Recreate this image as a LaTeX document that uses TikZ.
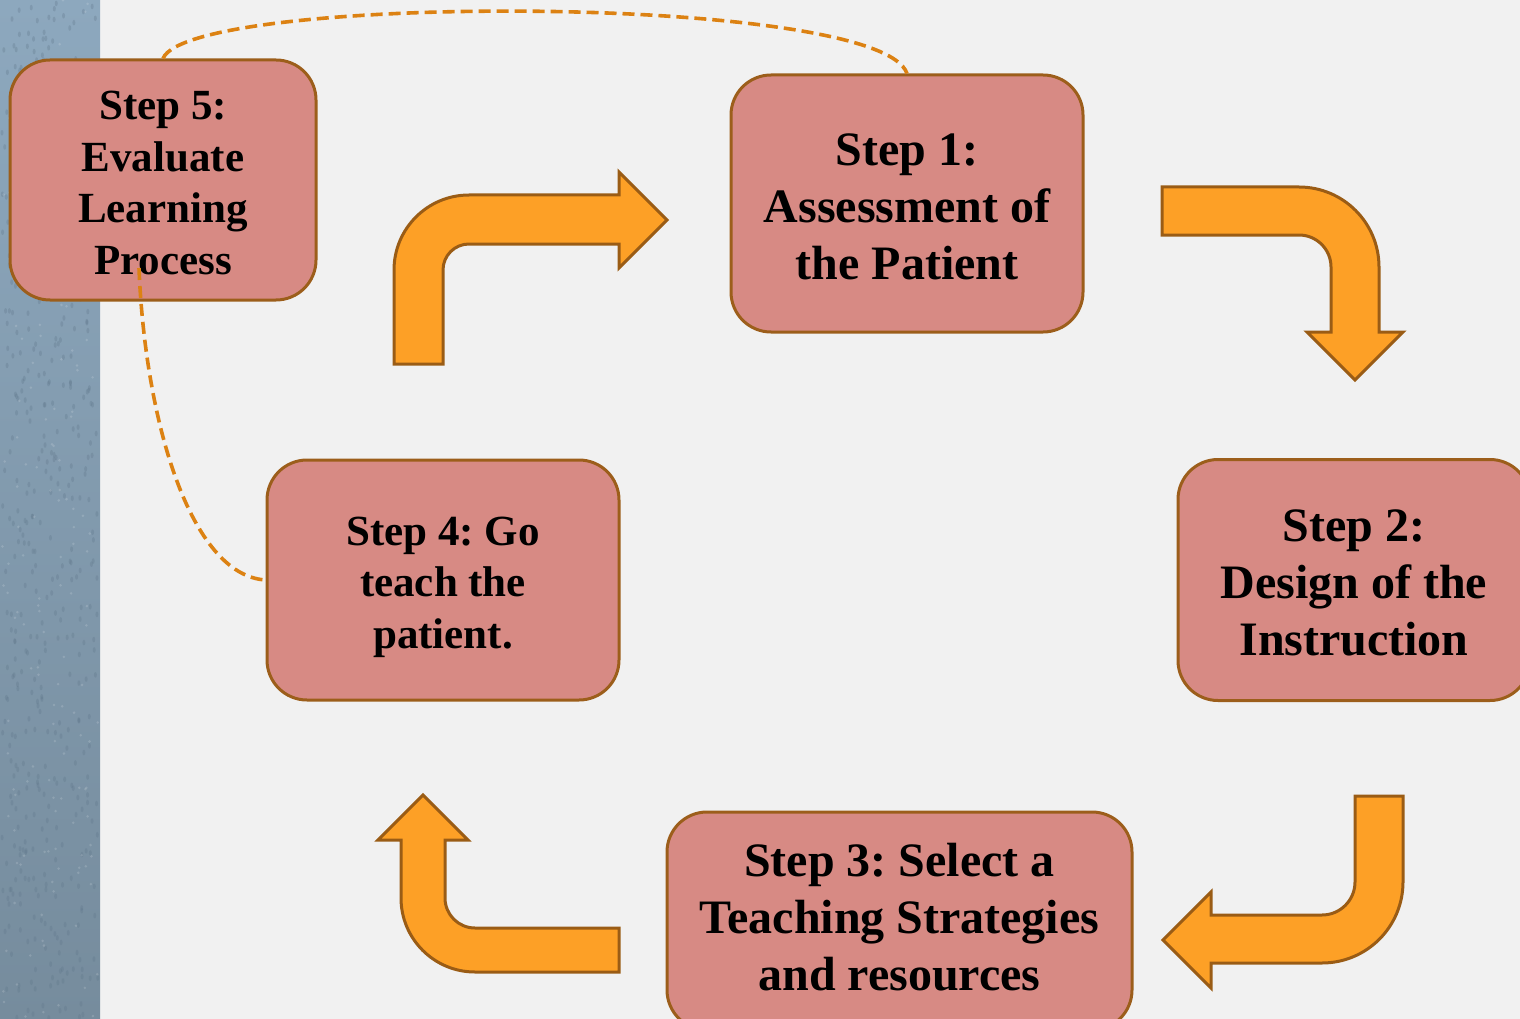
\documentclass[tikz,border=0pt]{standalone}
\usepackage{fontspec}
\setmainfont{Liberation Serif}
\frenchspacing
\definecolor{paper}{RGB}{241,241,241}
\definecolor{striptop}{RGB}{141,168,190}
\definecolor{stripbot}{RGB}{118,140,157}
\definecolor{stripspeck}{RGB}{95,118,138}
\definecolor{boxfill}{RGB}{215,138,132}
\definecolor{boxline}{RGB}{156,94,27}
\definecolor{arrowfill}{RGB}{253,160,38}
\definecolor{arrowline}{RGB}{154,92,21}
\definecolor{linkline}{RGB}{220,130,19}
\tikzset{
  stepbox/.style={draw=boxline, fill=boxfill, line width=3pt, rounded corners=40pt, inner sep=0pt},
  steptext/.style={align=center, text=black, inner sep=0pt},
  bigtext/.style={font=\fontsize{48}{57}\selectfont\bfseries},
  smalltext/.style={font=\fontsize{43}{51.5}\selectfont\bfseries},
  bentarrow/.style={draw=arrowline, fill=arrowfill, line width=3pt, line join=miter},
  link/.style={draw=linkline, line width=3.6pt, dash pattern=on 12pt off 6pt}
}
\begin{document}
\begin{tikzpicture}[x=1pt, y=-1pt]
  % page and background
  \useasboundingbox (0,0) rectangle (1520,1019);
  \fill[paper] (0,0) rectangle (1520,1019);
  % textured blue strip on the left edge
  \shade[top color=striptop, bottom color=stripbot] (0,0) rectangle (100,1019);
  \pgfmathsetseed{7}
  \foreach \i in {1,...,480} {
    \pgfmathsetmacro\px{2+rnd*96}
    \pgfmathsetmacro\py{rnd*1019}
    \fill[stripspeck, opacity=0.3] (\px,\py) ellipse[x radius=1.5, y radius=2.8];
  }
  \foreach \i in {1,...,160} {
    \pgfmathsetmacro\px{2+rnd*96}
    \pgfmathsetmacro\py{rnd*1019}
    \fill[white, opacity=0.15] (\px,\py) circle[radius=1.4];
  }

  % bent block arrows between the steps
  \draw[bentarrow] (394,364) -- (394,270) arc[start angle=180, end angle=270, radius=75]
    -- (619,195) -- (619,172) -- (667,220) -- (619,268) -- (619,244) -- (469,244)
    arc[start angle=270, end angle=180, radius=26] -- (443,364) -- cycle;
  \draw[bentarrow] (1162,187) -- (1299,187) arc[start angle=270, end angle=360, radius=80]
    -- (1379,332) -- (1403,332) -- (1355,380) -- (1307,332) -- (1331,332) -- (1331,267)
    arc[start angle=0, end angle=-90, radius=32] -- (1162,235) -- cycle;
  \draw[bentarrow] (1355,796) -- (1403,796) -- (1403,882) arc[start angle=0, end angle=90, radius=81]
    -- (1211,963) -- (1211,988) -- (1163,940) -- (1211,892) -- (1211,915) -- (1322,915)
    arc[start angle=90, end angle=0, radius=33] -- cycle;
  \draw[bentarrow] (619,928) -- (619,972) -- (475,972) arc[start angle=90, end angle=180, radius=74]
    -- (401,840) -- (378,840) -- (423,795) -- (468,840) -- (445,840) -- (445,898)
    arc[start angle=180, end angle=90, radius=30] -- cycle;

  % the five steps: rounded boxes and their captions
  \node[stepbox, minimum width=306pt, minimum height=240pt] (s5) at (163,180) {};
  \node[stepbox, minimum width=352pt, minimum height=257pt] (s1) at (907,203.5) {};
  \node[stepbox, minimum width=352pt, minimum height=241pt] (s2) at (1354,580) {};
  \node[stepbox, minimum width=465pt, minimum height=218pt] (s3) at (899.5,921) {};
  \node[stepbox, minimum width=352pt, minimum height=240pt] (s4) at (443,580) {};

  \node[steptext, smalltext] (s5t) at ([yshift=-3pt]s5.center) {Step 5:\\Evaluate\\Learning\\Process};
  \node[steptext, bigtext] (s1t) at ([yshift=-3pt]s1.center) {Step 1:\\Assessment of\\the Patient};
  \node[steptext, bigtext] (s2t) at ([yshift=-3pt]s2.center) {Step 2:\\Design of the\\Instruction};
  \node[steptext, bigtext] (s3t) at ([yshift=4pt]s3.center) {Step 3: Select a\\Teaching Strategies\\and resources};
  \node[steptext, smalltext] (s4t) at ([yshift=-7pt]s4.center) {Step 4: Go\\teach the\\patient.};

  % dashed links from step 5
  \coordinate (s5tail) at (139,268);
  \draw[link] (s5.north) .. controls (190,-7) and (880,-7) .. (s1.north);
  \draw[link] (s5tail) .. controls (145,420) and (190,575) .. (s4.west);
\end{tikzpicture}
\end{document}
